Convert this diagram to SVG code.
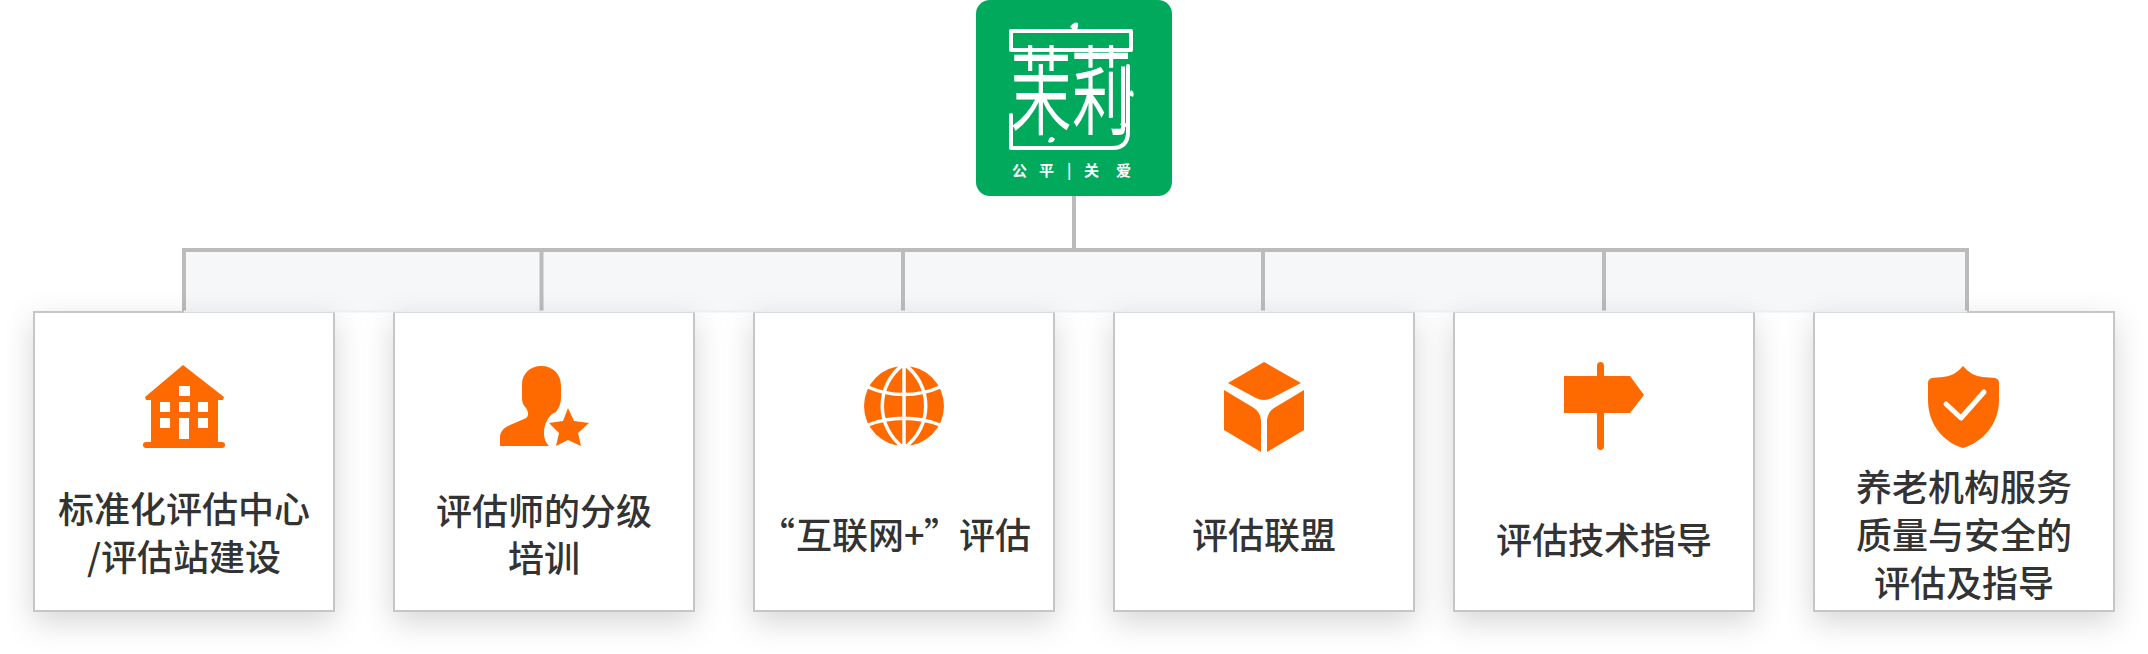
<svg xmlns="http://www.w3.org/2000/svg" width="2148" height="654" viewBox="0 0 2148 654">
<style>
text{font-family:"Noto Sans CJK SC","Noto Sans",sans-serif}
.lbl{font-size:36px;fill:#333;text-anchor:middle;font-weight:500}
.st{text-anchor:start}
.ic{fill:#ff6a00}
.w{fill:#fff}
.wl{fill:none;stroke:#fff;stroke-linecap:round;stroke-linejoin:round}
.card{fill:#fff;stroke:#c6c6c6;stroke-width:2;filter:url(#sh)}
.ln{fill:none;stroke:#bbb;stroke-width:4}
</style>
<defs>
<filter id="sh" x="-25%" y="-25%" width="150%" height="150%"><feDropShadow dx="0" dy="10" stdDeviation="15" flood-color="#000" flood-opacity=".16"/></filter>
</defs>
<rect width="2148" height="654" fill="#fff"/>
<g id="connectors">
<rect x="184" y="250" width="1783" height="61" fill="#f6f7f9"/>
<path class="ln" d="M1074 196V250M184 312V250H1967V312M541.500 250V312M903 250V312M1263 250V312M1604 250V312"/>
</g>
<g id="logo">
<rect x="976" y="0" width="196" height="196" rx="14" fill="#00a95c"/>
<path class="wl" stroke-width="4" d="M1011 50V31H1131V50M1011 50H1131M1011 148V115M1011 148H1112Q1128 148 1128 132V66"/>
<text transform="translate(1011 126) scale(1 1.6)" font-size="60" fill="#fff" stroke="#fff" stroke-width="1.200" font-weight="300">茉</text>
<text transform="translate(1071 126) scale(1 1.6)" font-size="60" fill="#fff" stroke="#fff" stroke-width="1.200" font-weight="300">莉</text>
<path class="w" d="M1070 27Q1074 21 1078 23Q1079 28 1075 31ZM1120 124Q1124 121 1128 125Q1124 130 1120 124ZM1048 142Q1050 134 1055 139Q1053 144 1048 142ZM1131 90Q1135 92 1133 97L1129 95Z"/>
<text y="176" font-size="15" font-weight="700" fill="#fff" x="1012 1039 1067 1084 1116">公平|关爱</text>
</g>
<g id="node1">
<rect class="card" x="34" y="312" width="300" height="299"/>
<path class="ic" fill-rule="evenodd" d="M183 365L224 397L223 400H218V442H222Q225 442 225 445Q225 448 222 448H146Q143 448 143 445Q143 442 146 442H151V400H146L145 397ZM179 386V396H190V386ZM160 402V412H170V402ZM179 402V412H190V402ZM198 402V412H208V402ZM160 418V428H170V418ZM198 418V428H208V418ZM179 418V439H189V418Z"/>
<text class="lbl" x="184" y="523">标准化评估中心</text>
<text class="lbl" x="184" y="571">/评估站建设</text>
</g>
<g id="node2">
<rect class="card" x="394" y="312" width="300" height="299"/>
<path class="ic" d="M541 366C553 366 561 374 561 386V398C561 403 559 408 556 412L552 414C546 420 544 426 544 434C544 439 546 443 549 446H500V438C500 432 503 428 510 425L524 419C529 417 529 413 526 408C523 405 522 402 522 398V384C522 374 530 366 541 366Z"/>
<path class="ic" d="M568 408L574 421L589 423L578 433L581 446L568 440L556 446L559 433L549 423L563 421Z"/>
<text class="lbl" x="544" y="525">评估师的分级</text>
<text class="lbl" x="544" y="572">培训</text>
</g>
<g id="node3">
<rect class="card" x="754" y="312" width="300" height="299"/>
<circle class="ic" cx="904" cy="406" r="40"/>
<path class="wl" stroke-width="3.500" d="M904 364V448M904 364C875 385 875 427 904 448C933 427 933 385 904 364M868 387C890 397 918 397 940 387M868 425C890 416 918 416 940 425"/>
<text class="lbl st" y="549" x="759 796 832 868 904 924 959 995">“互联网+”评估</text>
</g>
<g id="node4">
<rect class="card" x="1114" y="312" width="300" height="299"/>
<path class="ic" d="M1264 362L1301 383L1272 398Q1264 402 1256 398L1228 383ZM1224 390L1254 408Q1260 412 1261 420V452L1224 430ZM1304 390L1274 408Q1268 412 1267 420V452L1304 430Z"/>
<text class="lbl" x="1264" y="549">评估联盟</text>
</g>
<g id="node5">
<rect class="card" x="1454" y="312" width="300" height="299"/>
<path class="ic" d="M1564 376H1597V366Q1597 362 1600.500 362Q1604 362 1604 366V376H1630L1644 395L1630 413H1604V446Q1604 450 1600.500 450Q1597 450 1597 446V413H1564Z"/>
<text class="lbl" x="1604" y="554">评估技术指导</text>
</g>
<g id="node6">
<rect class="card" x="1814" y="312" width="300" height="299"/>
<path class="ic" d="M1963 366Q1971 376 1983 377L1995 378Q1999 379 1999 383V400C1999 424 1983 442 1963 448C1943 442 1928 424 1928 400V383Q1928 379 1932 378L1943 377Q1955 376 1963 366Z"/>
<path class="wl" stroke-width="5" d="M1946 404L1961 418L1984 392"/>
<text class="lbl" x="1964" y="501">养老机构服务</text>
<text class="lbl" x="1964" y="549">质量与安全的</text>
<text class="lbl" x="1964" y="597">评估及指导</text>
</g>
<path d="M184 311.500H1967" stroke="#eceef0" stroke-width="2"/>
</svg>
